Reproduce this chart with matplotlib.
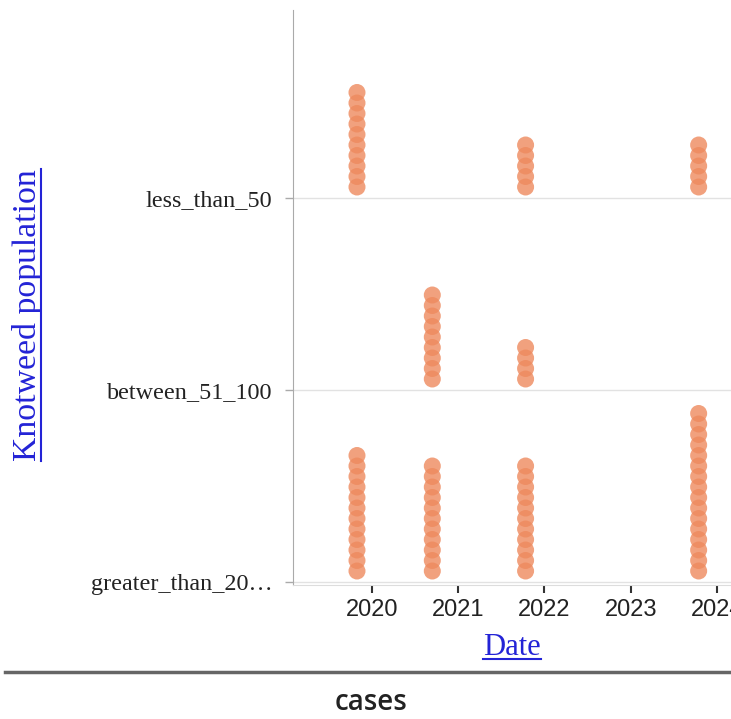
import matplotlib
matplotlib.use("Agg")
import matplotlib.pyplot as plt
import matplotlib.dates as mdates
from matplotlib.lines import Line2D
import numpy as np
import datetime as dt

# categories (bottom to top) and their tick labels
categories = ["greater_than_200", "between_51_100", "less_than_50"]
cat_labels = ["greater_than_20\u2026", "between_51_100", "less_than_50"]

# binned survey dates and number of cases per (date, category)
dates = [dt.date(2019, 10, 30), dt.date(2020, 9, 13), dt.date(2021, 10, 13), dt.date(2023, 10, 16)]
count_less = [10, 0, 5, 5]
count_between = [0, 9, 4, 0]
count_greater = [12, 11, 11, 16]
counts = {"less_than_50": count_less, "between_51_100": count_between, "greater_than_200": count_greater}

W, H = 731, 719
fig = plt.figure(figsize=(W/100, H/100), dpi=100)
ax = fig.add_axes([293/W, (H-585)/H, (W-293)/W, (585-10)/H])

dot_color = '#ee8a5e'
step = 10.5/192   # vertical spacing of stacked dots
first = 11/192
for ci, cat in enumerate(categories):
    for d, n in zip(dates, counts[cat]):
        if n == 0:
            continue
        ys = ci + first + step*np.arange(n)
        ax.scatter([d]*n, ys, s=150, color=dot_color, alpha=0.8, edgecolors='none', zorder=3)

ax.set_ylim(-3/192, 572/192)
ax.set_xlim(dt.date(2019, 2, 1), dt.date(2024, 3, 1))
ax.set_yticks(range(len(categories)))
ax.set_yticklabels(cat_labels, fontfamily='Liberation Serif', fontsize=17.4, color='#222222')
ax.xaxis.set_major_locator(mdates.YearLocator())
ax.xaxis.set_major_formatter(mdates.DateFormatter('%Y'))
for lab in ax.get_xticklabels():
    lab.set_fontfamily('Liberation Sans')
    lab.set_fontsize(17)
    lab.set_color('#222222')

ax.tick_params(axis='x', length=6, width=1.5, color='#333333', pad=4)
ax.tick_params(axis='y', length=6, width=1, color='#aaaaaa', pad=9)
ax.yaxis.grid(True, color='#e2e2e2', lw=1)
ax.set_axisbelow(True)
for s in ['top', 'right']:
    ax.spines[s].set_visible(False)
ax.spines['left'].set_color('#aaaaaa')
ax.spines['bottom'].set_color('#dddddd')

link = '#2323d6'
ax.set_xlabel('Date', fontsize=22, color=link, fontfamily='Liberation Serif')
ax.xaxis.set_label_coords(0.5, -0.083)
# y title placed on the figure, left edge
ytitle = fig.text(28/W, 1-315/H, 'Knotweed population', rotation=90, ha='center', va='center',
                  fontsize=24.3, color=link, fontfamily='Liberation Serif')

fig.add_artist(Line2D([5/W, 1], [1-672/H, 1-672/H], color='#666666', lw=2.5))
fig.text(371/W, 1-703/H, 'cases', ha='center', va='center', fontfamily='Open Sans',
         fontweight='semibold', fontsize=20, color='#222222')

# underline the axis titles like links
fig.canvas.draw()
r = fig.canvas.get_renderer()
bb = ax.xaxis.label.get_window_extent(r)
yl = (bb.y0 + 3)/H
fig.add_artist(Line2D([bb.x0/W, bb.x1/W], [yl, yl], color=link, lw=1.5))
bb = ytitle.get_window_extent(r)
xl = (bb.x1 - 3)/W
fig.add_artist(Line2D([xl, xl], [bb.y0/H, bb.y1/H], color=link, lw=1.5))

fig.savefig('out.png', dpi=100)
